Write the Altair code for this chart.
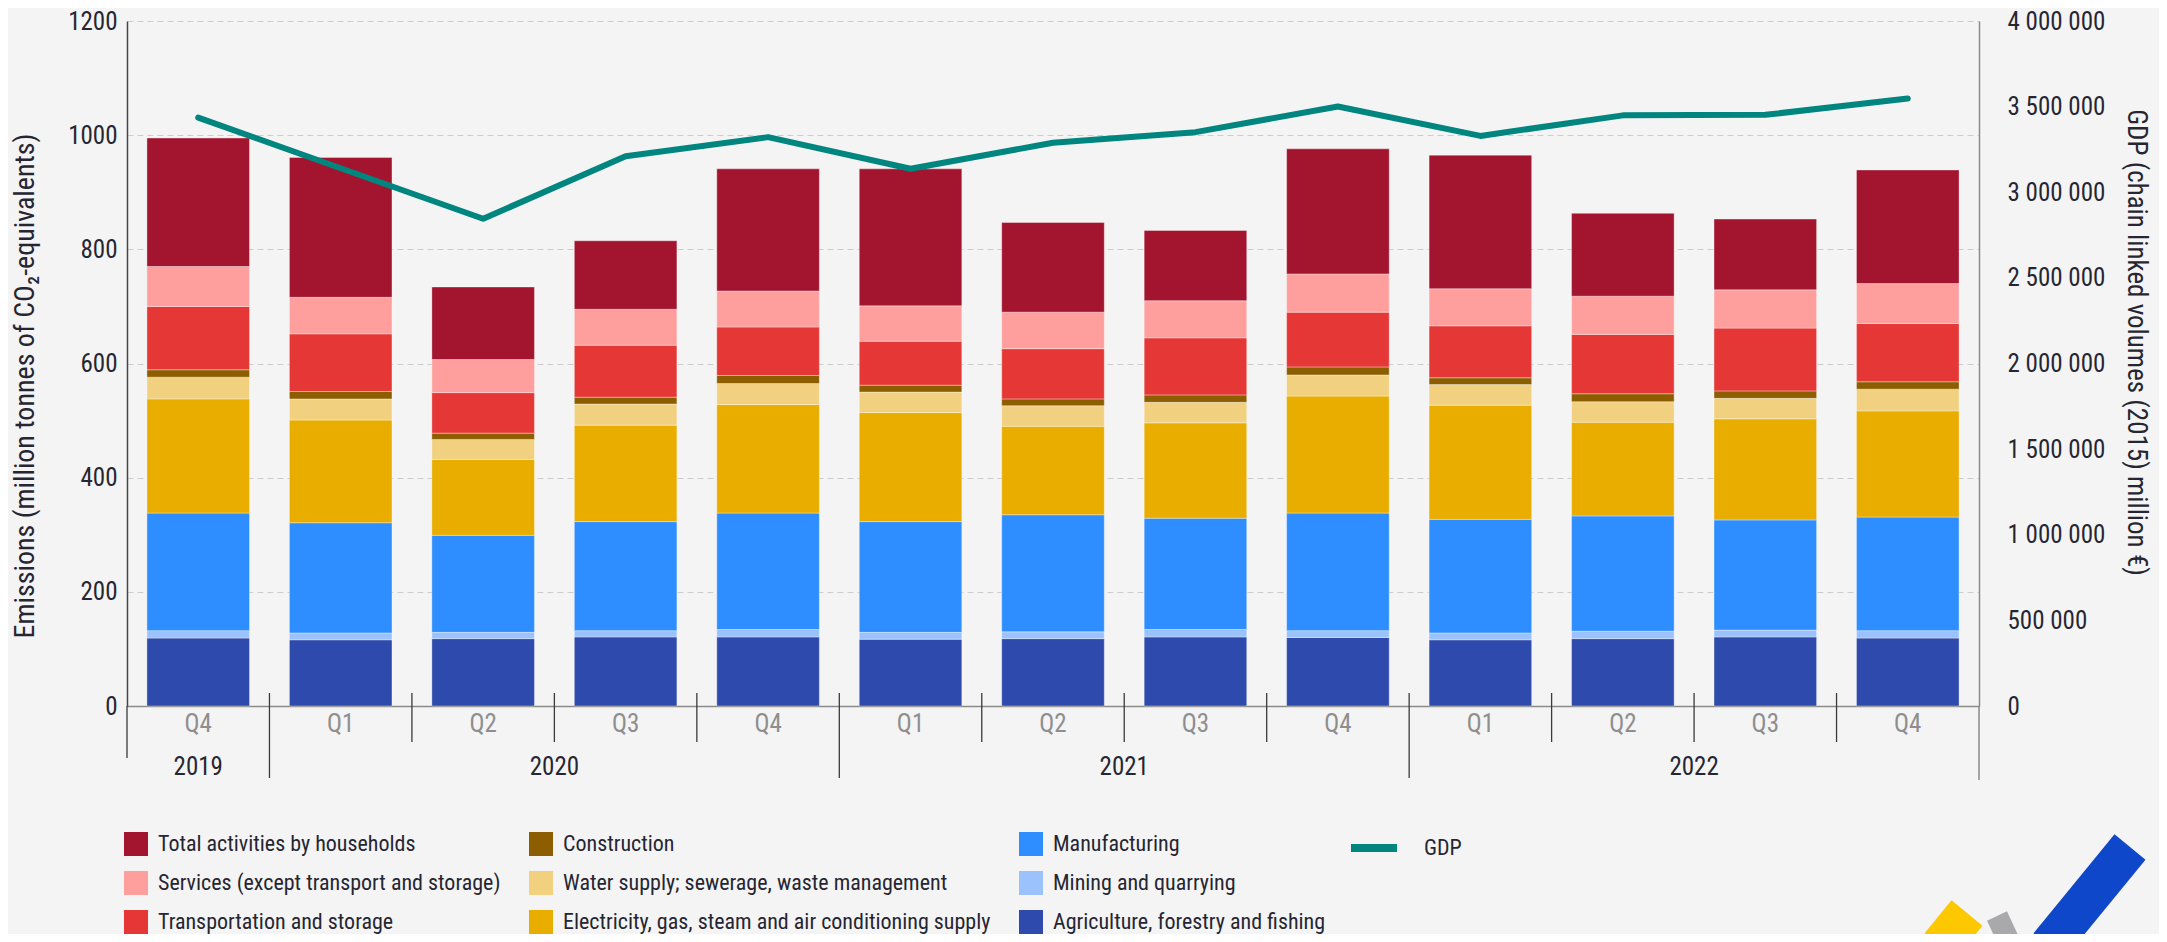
import altair as alt
import pandas as pd

# ---------------- data ----------------
years = [2019, 2020, 2020, 2020, 2020, 2021, 2021, 2021, 2021, 2022, 2022, 2022, 2022]
quarters = ["Q4", "Q1", "Q2", "Q3", "Q4", "Q1", "Q2", "Q3", "Q4", "Q1", "Q2", "Q3", "Q4"]

agriculture = [119, 116, 118, 121, 121, 117, 118, 121, 120, 116, 118, 121, 119]
mining = [13, 12, 11, 11, 13, 12, 12, 13, 12, 12, 13, 12, 13]
manufacturing = [206, 193, 170, 191, 204, 194, 205, 195, 206, 199, 202, 193, 199]
electricity = [200, 180, 133, 169, 190, 191, 155, 167, 205, 200, 164, 177, 186]
water = [38, 37, 35, 37, 37, 36, 36, 36, 37, 36, 36, 36, 38]
construction = [13, 13, 11, 12, 14, 12, 12, 13, 14, 12, 14, 13, 13]
transport = [111, 101, 71, 91, 85, 77, 88, 100, 96, 91, 104, 110, 102]
services = [70, 64, 58, 63, 63, 62, 64, 65, 67, 65, 67, 67, 70]
households = [225, 245, 127, 120, 214, 240, 157, 123, 219, 234, 145, 124, 199]

gdp = [3436000, 3140000, 2845000, 3210000, 3322000, 3137000, 3289000,
       3351000, 3501000, 3329000, 3449000, 3452000, 3548000]

sector_names = [
    "Agriculture, forestry and fishing",
    "Mining and quarrying",
    "Manufacturing",
    "Electricity, gas, steam and air conditioning supply",
    "Water supply; sewerage, waste management",
    "Construction",
    "Transportation and storage",
    "Services (except transport and storage)",
    "Total activities by households",
]
sector_colors = ["#2e4aad", "#9bc2fd", "#2f8eff", "#e9ad00", "#f1d080",
                 "#8c5e00", "#e53836", "#fe9f9d", "#a3142f"]
sector_values = [agriculture, mining, manufacturing, electricity, water,
                 construction, transport, services, households]

left_ticks = [0, 200, 400, 600, 800, 1000, 1200]
right_ticks = [0, 500000, 1000000, 1500000, 2000000, 2500000, 3000000, 3500000, 4000000]

# ---------------- tables ----------------
periods = [f"{y}-{q}" for y, q in zip(years, quarters)]

rows = []
for k, (name, vals) in enumerate(zip(sector_names, sector_values)):
    for p, v in zip(periods, vals):
        rows.append({"period": p, "sector": name, "value": v, "stack": k})
bars_df = pd.DataFrame(rows)

gdp_df = pd.DataFrame({"period": periods, "gdp": gdp, "series": ["GDP"] * len(periods)})

first_of_year = [p for i, p in enumerate(periods) if i > 0 and years[i] != years[i - 1]]
quarter_sep = [p for i, p in enumerate(periods) if i > 0 and years[i] == years[i - 1]]

year_rows_even, year_rows_odd = [], []
for y in sorted(set(years)):
    ps = [p for p, yy in zip(periods, years) if yy == y]
    if len(ps) % 2 == 0:
        year_rows_even.append({"period": ps[len(ps) // 2], "label": str(y)})
    else:
        year_rows_odd.append({"period": ps[len(ps) // 2], "label": str(y)})

# ---------------- layout ----------------
W, H = 1852, 685
FONT = "Roboto Condensed, DejaVu Sans Condensed, sans-serif"
TXT = "#262633"

x_scale = alt.Scale(domain=periods, paddingInner=0, paddingOuter=0)
x_axis = alt.Axis(title=None, labelExpr="split(datum.value, '-')[1]", labelAngle=0,
                  labelColor="#8e8e8e", labelFontSize=25, labelPadding=5,
                  ticks=False, domain=True, domainColor="#8a8a8a", domainWidth=1.5,
                  grid=False)

bars = alt.Chart(bars_df).mark_bar(
    width=alt.RelativeBandSize(0.72), stroke="#ffffff", strokeWidth=1, strokeOpacity=0.35
).encode(
    x=alt.X("period:N", scale=x_scale, axis=x_axis),
    y=alt.Y("value:Q", stack="zero",
            scale=alt.Scale(domain=[0, 1200], nice=False),
            axis=alt.Axis(title="Emissions (million tonnes of CO₂-equivalents)",
                          values=left_ticks, format="d", grid=True, gridDash=[6, 4],
                          gridColor="#cdcdcd", gridWidth=1.2, ticks=False,
                          domain=True, domainColor="#444444", domainWidth=1.5,
                          labelFontSize=25, labelColor=TXT, labelPadding=10,
                          titleFontSize=28, titleFontWeight="normal", titleColor=TXT,
                          titleAngle=270, titleX=-102, titleY=H / 2 + 22,
                          titleAlign="center", titleBaseline="middle")),
    color=alt.Color("sector:N",
                    scale=alt.Scale(domain=sector_names[::-1], range=sector_colors[::-1]),
                    legend=alt.Legend(orient="none", legendX=-3, legendY=811, columns=3,
                                      title=None, symbolType="square", symbolSize=576,
                                      symbolStrokeWidth=0, labelFontSize=22,
                                      labelColor=TXT, labelLimit=800, labelOffset=10,
                                      rowPadding=15, columnPadding=28, padding=0)),
    order=alt.Order("stack:Q", sort="ascending"),
)

line = alt.Chart(gdp_df).mark_line(strokeWidth=6, strokeCap="round", strokeJoin="round").encode(
    x=alt.X("period:N", scale=x_scale, axis=x_axis),
    y=alt.Y("gdp:Q", scale=alt.Scale(domain=[0, 4000000], nice=False),
            axis=alt.Axis(orient="right", title="GDP (chain linked volumes (2015) million €)",
                          values=right_ticks, grid=False, ticks=False,
                          labelExpr="replace(format(datum.value, ','), regexp(',', 'g'), ' ')",
                          domain=True, domainColor="#8a8a8a", domainWidth=1.5,
                          labelFontSize=25, labelColor=TXT, labelPadding=28,
                          labelAlign="left",
                          titleFontSize=27, titleFontWeight="normal", titleColor=TXT,
                          titleAngle=90, titleX=156, titleY=321,
                          titleAlign="center", titleBaseline="middle")),
    stroke=alt.Stroke("series:N", scale=alt.Scale(domain=["GDP"], range=["#00857f"]),
                      legend=alt.Legend(orient="none", legendX=1220, legendY=800,
                                        title=None, symbolType="stroke", symbolSize=2116,
                                        symbolStrokeWidth=8, labelFontSize=22,
                                        labelColor=TXT, labelOffset=23, padding=0)),
)

rule_color = "#3a3a3a"
qsep = alt.Chart(pd.DataFrame({"period": quarter_sep})).mark_rule(
    color=rule_color, strokeWidth=1.3).encode(
    x=alt.X("period:N", scale=x_scale, axis=x_axis, bandPosition=0),
    y=alt.value(H - 13), y2=alt.value(H + 36))

ysep = alt.Chart(pd.DataFrame({"period": first_of_year})).mark_rule(
    color=rule_color, strokeWidth=1.3).encode(
    x=alt.X("period:N", scale=x_scale, axis=x_axis, bandPosition=0),
    y=alt.value(H - 13), y2=alt.value(H + 72))

left_edge = alt.Chart(pd.DataFrame({"period": periods[:1]})).mark_rule(
    color=rule_color, strokeWidth=1.3).encode(
    x=alt.X("period:N", scale=x_scale, axis=x_axis, bandPosition=0),
    y=alt.value(H), y2=alt.value(H + 52))

right_edge = alt.Chart(pd.DataFrame({"period": periods[-1:]})).mark_rule(
    color="#8a8a8a", strokeWidth=1.5).encode(
    x=alt.X("period:N", scale=x_scale, axis=x_axis, bandPosition=1),
    y=alt.value(H), y2=alt.value(H + 74))

year_even = alt.Chart(pd.DataFrame(year_rows_even)).mark_text(
    fontSize=25, color=TXT, baseline="middle", align="center").encode(
    x=alt.X("period:N", scale=x_scale, axis=x_axis, bandPosition=0),
    y=alt.value(H + 61), text="label:N")

year_odd = alt.Chart(pd.DataFrame(year_rows_odd)).mark_text(
    fontSize=25, color=TXT, baseline="middle", align="center").encode(
    x=alt.X("period:N", scale=x_scale, axis=x_axis, bandPosition=0.5),
    y=alt.value(H + 61), text="label:N")

# corner logo strokes (decoration)
logo_yellow = alt.Chart(pd.DataFrame({"k": [0]})).mark_rule(
    color="#fdc800", strokeWidth=40).encode(
    x=alt.value(1840), y=alt.value(892), x2=alt.value(1813), y2=alt.value(925))
logo_gray = alt.Chart(pd.DataFrame({"k": [0]})).mark_rule(
    color="#a9a9ab", strokeWidth=22).encode(
    x=alt.value(1870), y=alt.value(895), x2=alt.value(1884), y2=alt.value(925))
logo_blue = alt.Chart(pd.DataFrame({"k": [0]})).mark_rule(
    color="#0e47c9", strokeWidth=40).encode(
    x=alt.value(2003), y=alt.value(826), x2=alt.value(1922), y2=alt.value(925))

chart = alt.layer(bars, line, qsep, ysep, left_edge, right_edge, year_even, year_odd,
                  logo_yellow, logo_gray, logo_blue).resolve_scale(
    y="independent"
).properties(
    width=W, height=H,
    autosize=alt.AutoSizeParams(type="none"),
    padding={"left": 119, "top": 13, "right": 180, "bottom": 228},
).configure(
    background="#f4f4f4", font=FONT
).configure_view(stroke=None)

chart.save("out.html", embed_options={"renderer": "svg", "actions": False})
